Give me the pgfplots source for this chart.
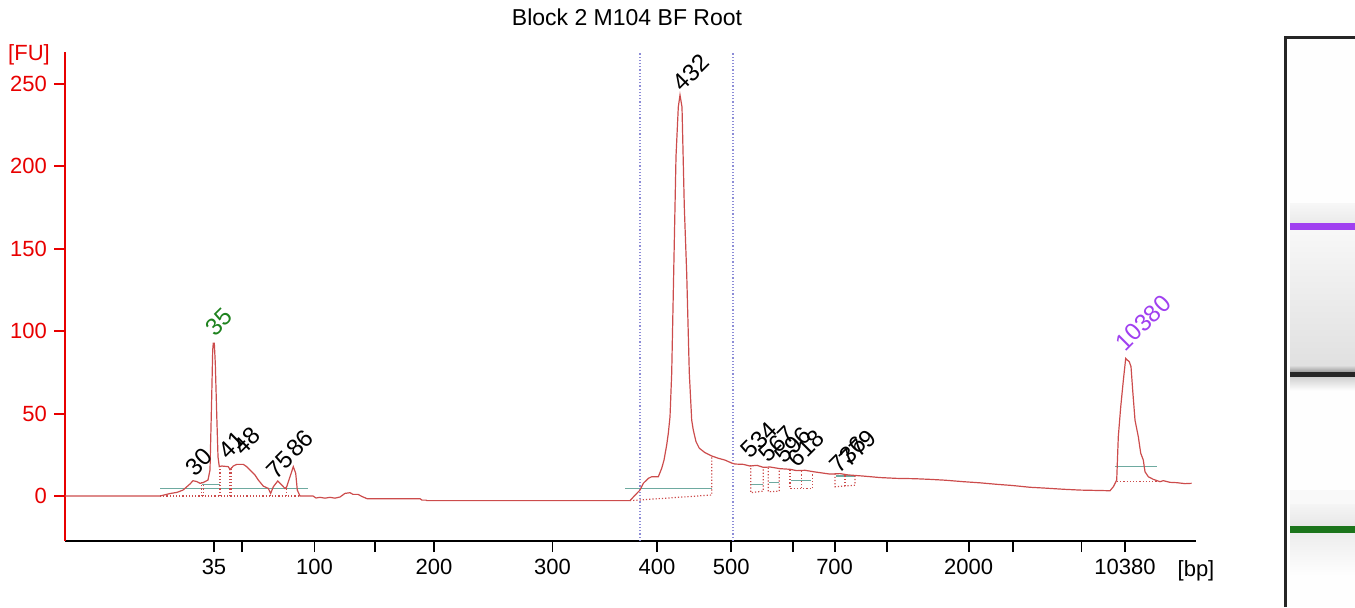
\documentclass[border=0pt]{standalone}
\usepackage{fontspec}
\setmainfont{Liberation Sans}
\usepackage{pgfplots}
\pgfplotsset{compat=1.18}
\definecolor{trace}{RGB}{204,76,76}
\definecolor{axred}{RGB}{232,0,0}
\definecolor{basegreen}{RGB}{110,170,160}
\definecolor{vline}{RGB}{140,140,215}
\definecolor{ladgreen}{RGB}{30,130,30}
\definecolor{markpurple}{RGB}{160,64,240}
\begin{document}
\begin{tikzpicture}[x=0.5pt,y=0.5pt]
\useasboundingbox (0,0) rectangle (1355,607);
\node[font=\fontsize{11.5}{13}\selectfont] at (627,590) {Block 2 M104 BF Root};
\node[font=\fontsize{11}{13}\selectfont, text=axred] at (29,552) {[FU]};
\node[font=\fontsize{11}{13}\selectfont] at (1196,36) {[bp]};
\begin{axis}[
  at={(32.5pt,33pt)}, anchor=south west,
  scale only axis, width=565.5pt, height=244.5pt,
  xmin=65, xmax=1196, ymin=-27.3, ymax=269.4,
  axis x line*=bottom, axis y line*=left,
  x axis line style={black, line width=1.3pt},
  y axis line style={axred, line width=0.9pt},
  tick align=outside, major tick length=5.5pt,
  xtick={214,242,314.5,374.7,434,552.4,656.9,731.3,792.9,834.6,886.8,968.6,1013.2,1081.4,1125},
  xticklabels={35,,100,,200,300,400,500,,700,,2000,,,10380},
  ytick={0,50,100,150,200,250},
  x tick style={black, line width=0.9pt},
  y tick style={axred, line width=0.9pt},
  yticklabel style={text=axred, font=\fontsize{11}{13}\selectfont},
  xticklabel style={text=black, font=\fontsize{11}{13}\selectfont},
  /pgf/number format/assume math mode=true,
  clip=false,
]
% vertical region markers
\addplot[vline, densely dotted, line width=0.6pt] coordinates {(640,-27.3) (640,269.4)};
\addplot[vline, densely dotted, line width=0.6pt] coordinates {(733,-27.3) (733,269.4)};
% baselines (teal)
\addplot[basegreen, line width=0.7pt] coordinates {(160,4.7) (308,4.7)};
\addplot[basegreen, line width=0.7pt] coordinates {(202,7.1) (220,7.1)};
\addplot[basegreen, line width=0.7pt] coordinates {(625,4.7) (712,4.7)};
\addplot[basegreen, line width=0.7pt] coordinates {(751,7.1) (763,7.1)};
\addplot[basegreen, line width=0.7pt] coordinates {(769,8.1) (779,8.1)};
\addplot[basegreen, line width=0.7pt] coordinates {(791,9.3) (811,9.3)};
\addplot[basegreen, line width=0.7pt] coordinates {(836,12.1) (855,12.1)};
\addplot[basegreen, line width=0.7pt] coordinates {(1115,17.8) (1157,17.8)};
% dotted peak boundaries
\addplot[trace, densely dotted, line width=0.6pt] coordinates {(160,0) (300,0)};
\addplot[trace, densely dotted, line width=0.6pt] coordinates {(201.7,0) (201.7,8.5)};
\addplot[trace, densely dotted, line width=0.6pt] coordinates {(203.3,0) (203.3,8.5)};
\addplot[trace, densely dotted, line width=0.6pt] coordinates {(220,0) (220,18)};
\addplot[trace, densely dotted, line width=0.6pt] coordinates {(230,0) (230,16.5)};
\addplot[trace, densely dotted, line width=0.6pt] coordinates {(231.7,0) (231.7,17.5)};
\addplot[trace, densely dotted, line width=0.6pt] coordinates {(270.5,0) (270.5,2)};
\addplot[trace, densely dotted, line width=0.6pt] coordinates {(286.7,0) (286.7,5.6)};
\addplot[trace, densely dotted, line width=0.6pt] coordinates {(298.3,0) (298.3,3)};
\addplot[trace, densely dotted, line width=0.6pt] coordinates {(630,-2.8) (711.7,0.6) (711.7,23.8)};
\addplot[trace, densely dotted, line width=0.6pt] coordinates {(750.7,18.8) (750.7,2) (763.3,3) (763.3,17.4)};
\addplot[trace, densely dotted, line width=0.6pt] coordinates {(768.3,17.2) (768.3,2.6) (779.3,2.9) (779.3,16.8)};
\addplot[trace, densely dotted, line width=0.6pt] coordinates {(790,16) (790,4.6) (812.7,4.6) (812.7,15)};
\addplot[trace, densely dotted, line width=0.6pt] coordinates {(801.7,4.6) (801.7,15.6)};
\addplot[trace, densely dotted, line width=0.6pt] coordinates {(835,13.6) (835,5.6) (855,6.5) (855,12.6)};
\addplot[trace, densely dotted, line width=0.6pt] coordinates {(845,6) (845,13)};
\addplot[trace, densely dotted, line width=0.6pt] coordinates {(1117,8.7) (1160,8.7)};
% electropherogram trace
\addplot[trace, line width=0.6pt] coordinates {
(65,0) (160,0) (162,0.3) (170,1.5) (177,2.2) (183,3.6) (190,7.3) (193,9.3) (197,8.7)
(200,7.7) (203,8.1) (208,9.7) (210,15.8) (211.7,60) (212.7,88.6) (213.3,92.7) (214.3,92.7)
(215.3,80.5) (216.7,50) (218,23.8) (219.3,17.8) (221.7,18.2) (228.3,17.8) (230,16)
(233.3,18.2) (236.7,19.2) (243.3,19.2) (246.7,17.8) (250,15.8) (255,12.7) (258.3,9.7)
(263.3,6) (268.3,4.6) (270.7,1.6) (273.3,5.6) (277.7,9.1) (281.7,6.7) (285,4.6) (286.7,5.6)
(290,11.7) (293.3,17.8) (295.7,13.8) (297.3,3.6) (300,0) (313,0) (316,-1.2) (320,-0.8)
(325,-1.3) (330,-0.8) (335,-1.3) (340,-0.6) (345,1.6) (350,2.0) (353,1.0) (358,1.0)
(362,-0.3) (367,-1.6) (420,-1.6) (422,-2.5) (426,-2.5) (427,-2.8) (630,-2.8) (635,0.5)
(640,3.6) (643.3,7.7) (648.3,10.7) (651.7,11.7) (658.3,11.7) (661.7,16.8) (664,21.8)
(666.7,31) (668.3,38) (670,48) (671.7,74.6) (674,145) (676,206) (678.3,236) (680,243.3)
(682,236) (684.3,175.5) (686.7,135) (689.3,74.6) (691.7,46) (693.3,40) (696,33) (699.3,29)
(705,26.3) (711.7,24.3) (718.3,22.9) (725,21.8) (731.7,20) (735,19.4) (743.3,19.2)
(750,18.2) (757,18.6) (763.3,17.4) (770,17.6) (780,16.6) (790,16.2) (796.7,15.4) (805,15.6)
(815,14.6) (830,13.3) (840,13.6) (848,12.8) (863.3,12.1) (880,11.2) (896.7,10.7) (915,10.5)
(930,10.1) (945,9.6) (963.3,8.7) (980,8.0) (996.7,7.1) (1012,6.4) (1030,5.3) (1045,4.8)
(1063.3,4.1) (1080,3.6) (1095,3.4) (1110,3.2) (1113.3,5.6) (1116.7,9.7) (1118.3,36)
(1120.7,54) (1123.3,70) (1125.7,83.5) (1127.3,82.5) (1129.3,81.5) (1131,78.5) (1132.7,64)
(1135,46) (1138.3,36) (1140.7,26) (1143.3,21.8) (1145,14.7) (1148.3,11.7) (1153.3,10.1)
(1160,8.7) (1163.3,9.3) (1170,8.3) (1176.7,8.1) (1185,7.5) (1191.7,7.7)
};
% peak labels
\node[rotate=45, font=\fontsize{12}{14}\selectfont] at (axis cs:199,20.6) {30};
\node[rotate=45, font=\fontsize{12}{14}\selectfont] at (axis cs:232,31) {41};
\node[rotate=45, font=\fontsize{12}{14}\selectfont] at (axis cs:247,33.4) {48};
\node[rotate=45, font=\fontsize{12}{14}\selectfont] at (axis cs:280,18.8) {75};
\node[rotate=45, font=\fontsize{12}{14}\selectfont] at (axis cs:300,32) {86};
\node[rotate=45, font=\fontsize{12}{14}\selectfont, text=ladgreen] at (axis cs:219,105.6) {35};
\node[rotate=45, font=\fontsize{12}{14}\selectfont] at (axis cs:691,257) {432};
\node[rotate=45, font=\fontsize{12}{14}\selectfont] at (axis cs:759,34) {534};
\node[rotate=45, font=\fontsize{12}{14}\selectfont] at (axis cs:777,31.6) {567};
\node[rotate=45, font=\fontsize{12}{14}\selectfont] at (axis cs:793,31) {596};
\node[rotate=45, font=\fontsize{12}{14}\selectfont] at (axis cs:806,29) {618};
\node[rotate=45, font=\fontsize{12}{14}\selectfont] at (axis cs:848,25) {736};
\node[rotate=45, font=\fontsize{12}{14}\selectfont] at (axis cs:858,29) {779};
\node[rotate=45, font=\fontsize{12}{14}\selectfont, text=markpurple] at (axis cs:1143,105) {10380};
\end{axis}
% gel lane
\begin{axis}[
  at={(642pt,0pt)}, anchor=south west,
  scale only axis, width=35.5pt, height=303.5pt,
  xmin=1284, xmax=1355, ymin=0, ymax=607, y dir=reverse,
  hide axis, clip=true,
]
\fill[white!99.5!black] (axis cs:1290,37) rectangle (axis cs:1355,607);
\shade[top color=white!97!black, bottom color=white!92!black] (axis cs:1290,203) rectangle (axis cs:1355,222);
\shade[top color=white!97!black, bottom color=white!88!black] (axis cs:1290,229) rectangle (axis cs:1355,366);
\shade[top color=white!85!black, bottom color=white!60!black] (axis cs:1290,366) rectangle (axis cs:1355,372);
\fill[black!85] (axis cs:1290,372) rectangle (axis cs:1355,377);
\shade[top color=white!82!black, bottom color=white!99!black] (axis cs:1290,377) rectangle (axis cs:1355,390);
\fill[white!97.5!black] (axis cs:1290,490) rectangle (axis cs:1355,504);
\shade[top color=white!96!black, bottom color=white!91!black] (axis cs:1290,504) rectangle (axis cs:1355,526);
\shade[top color=white!93!black, bottom color=white!99.5!black] (axis cs:1290,533) rectangle (axis cs:1355,575);
\fill[markpurple] (axis cs:1290,223) rectangle (axis cs:1355,229.5);
\fill[ladgreen!90!black] (axis cs:1290,526) rectangle (axis cs:1355,532.5);
\draw[black!85, line width=1.3pt] (axis cs:1285.5,607) -- (axis cs:1285.5,37.5) -- (axis cs:1356,37.5);
\end{axis}
\end{tikzpicture}
\end{document}
